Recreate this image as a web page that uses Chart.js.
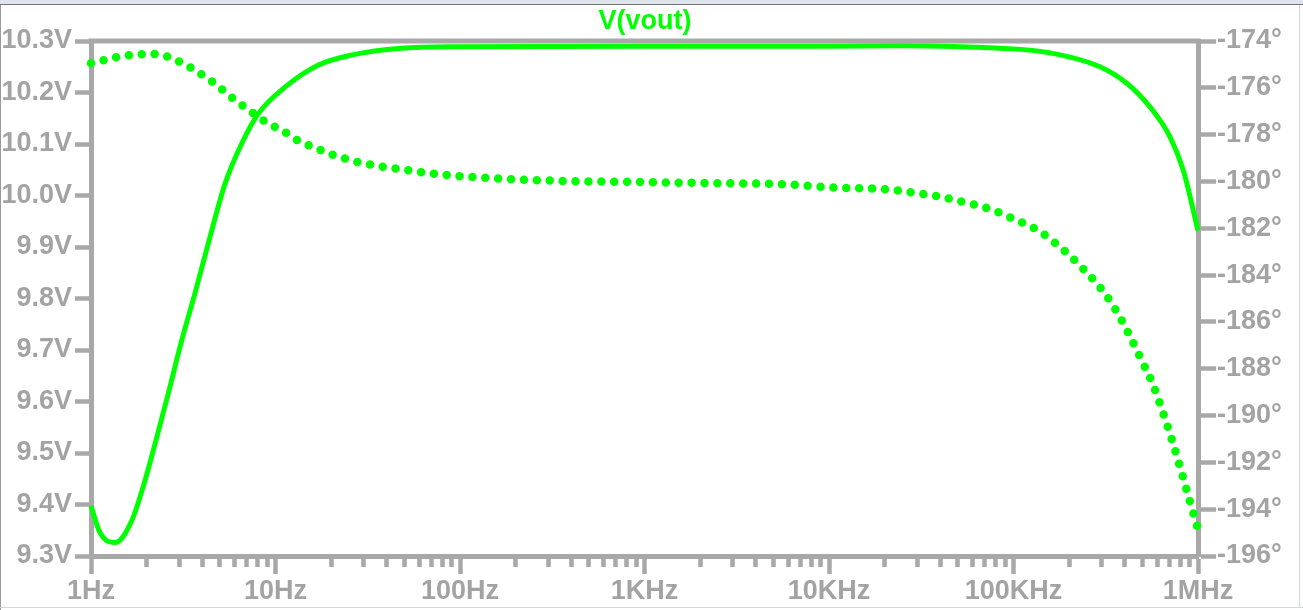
<!DOCTYPE html>
<html>
<head>
<meta charset="utf-8">
<title>V(vout)</title>
<script src="https://cdn.jsdelivr.net/npm/chart.js@4.4.1/dist/chart.umd.min.js"></script>
<style>
  html, body { margin: 0; padding: 0; background: #fff; }
  #wrap { position: relative; width: 1303px; height: 610px; overflow: hidden; background: #fff; }
  #plot { position: absolute; left: 0; top: 0; }
  .edge { position: absolute; }
</style>
</head>
<body>
<div id="wrap">
  <canvas id="plot" width="1303" height="610"></canvas>
  <div class="edge" style="left:0;top:0;width:1303px;height:4px;background:#dfe4eb;border-bottom:1px solid #707478"></div>
  <div class="edge" style="left:0;top:5px;width:1px;height:605px;background:#9a9a9a"></div>
  <div class="edge" style="left:1299px;top:5px;width:1px;height:603px;background:#d3d7dc"></div>
  <div class="edge" style="left:0;top:607px;width:1303px;height:1px;background:#d3d7dc"></div>
</div>
<script>
// magnitude, V(vout) in volts
const magFreq = [1, 1.12, 1.35, 1.66, 1.96, 2.27, 2.62, 3.1, 3.66, 4.51, 5.33, 6.56, 8.07, 11.3, 17, 26, 48,
  100, 1000, 10000, 24000, 84500, 158000, 294000, 411000, 549000, 705000, 832000, 1000000];
const magVolts = [9.397, 9.345, 9.326, 9.368, 9.446, 9.530, 9.615, 9.718, 9.810, 9.932, 10.023, 10.101, 10.159,
  10.211, 10.253, 10.273, 10.286, 10.289, 10.290, 10.290, 10.291, 10.286, 10.277, 10.250, 10.218, 10.172,
  10.114, 10.049, 9.932];

// phase in degrees (dotted trace)
const phaseFreq = [1, 1.19, 1.41, 1.66, 1.92, 2.27, 2.68, 3.1, 3.59, 4.15, 4.74, 5.43, 6.23, 7.18, 8.14, 9.53,
  11, 12.7, 14.7, 17.3, 20.2, 23.8, 27.9, 32.7, 38.7, 45.4, 71.4, 165, 379, 869, 2150, 5630, 10800, 20500,
  28600, 39100, 53400, 74600, 102000, 136000, 179000, 229000, 292000, 351000, 419000, 491000, 568000,
  648000, 741000, 816000, 897000, 1000000];
const phaseDeg = [-174.95, -174.81, -174.67, -174.60, -174.56, -174.56, -174.70, -174.93, -175.20, -175.53,
  -175.84, -176.24, -176.60, -176.95, -177.27, -177.60, -177.84, -178.17, -178.41, -178.64, -178.85, -179.02,
  -179.17, -179.28, -179.38, -179.45, -179.67, -179.88, -179.98, -180.02, -180.07, -180.12, -180.26, -180.34,
  -180.48, -180.64, -180.88, -181.18, -181.63, -182.09, -182.80, -183.59, -184.49, -185.37, -186.47, -187.58,
  -188.65, -189.91, -191.32, -192.44, -193.58, -194.85];

// axis ticks
const freqDecades = [1, 10, 100, 1e3, 1e4, 1e5];
const freqTickLabels = ['1Hz', '10Hz', '100Hz', '1KHz', '10KHz', '100KHz', '1MHz'];
const voltTicks = [9.3, 9.4, 9.5, 9.6, 9.7, 9.8, 9.9, 10.0, 10.1, 10.2, 10.3];
const voltTickLabels = ['9.3V', '9.4V', '9.5V', '9.6V', '9.7V', '9.8V', '9.9V', '10.0V', '10.1V', '10.2V', '10.3V'];
const degTicks = [-196, -194, -192, -190, -188, -186, -184, -182, -180, -178, -176, -174];
const degTickLabels = ['-196°', '-194°', '-192°', '-190°', '-188°', '-186°', '-184°', '-182°', '-180°', '-178°', '-176°', '-174°'];

const green = '#00ff00';
const gray = '#a8a8a8';
const textGray = '#a3a3a3';
const tickFont = { family: "'Liberation Sans', Arial, sans-serif", size: 27, weight: 'bold' };

const freqTicks = [];
freqDecades.forEach(d => {
  for (let m = 1; m <= 9; m++) freqTicks.push({ value: m * d, major: m === 1 });
});
freqTicks.push({ value: 1e6, major: true });

// top edge of the plot frame (the axes draw the other three sides)
const frameTop = {
  id: 'frameTop',
  beforeDatasetsDraw(chart) {
    const { ctx, chartArea: a } = chart;
    ctx.save();
    ctx.strokeStyle = gray;
    ctx.lineWidth = 5;
    ctx.beginPath();
    ctx.moveTo(a.left - 2.5, a.top);
    ctx.lineTo(a.right + 2.5, a.top);
    ctx.stroke();
    ctx.restore();
  }
};

const ctx = document.getElementById('plot').getContext('2d');
new Chart(ctx, {
  type: 'line',
  data: {
    datasets: [
      {
        label: 'V(vout)',
        data: magFreq.map((f, i) => ({ x: f, y: magVolts[i] })),
        yAxisID: 'yV',
        borderColor: green,
        borderWidth: 5,
        pointRadius: 0,
        cubicInterpolationMode: 'monotone',
        clip: 8
      },
      {
        label: 'phase',
        data: phaseFreq.map((f, i) => ({ x: f, y: phaseDeg[i] })),
        yAxisID: 'yP',
        borderColor: green,
        borderWidth: 8.5,
        borderDash: [0, 12.9],
        borderCapStyle: 'round',
        pointRadius: 0,
        cubicInterpolationMode: 'monotone',
        clip: 8
      }
    ]
  },
  options: {
    responsive: false,
    animation: false,
    devicePixelRatio: 1,
    layout: { padding: { left: 0, right: 13, top: 0, bottom: 0 } },
    plugins: {
      legend: { display: false },
      tooltip: { enabled: false },
      title: {
        display: true,
        text: 'V(vout)',
        color: green,
        font: { family: "'Liberation Sans', Arial, sans-serif", size: 27, weight: 'bold' },
        padding: { top: 5.5, bottom: 3.1 }
      }
    },
    scales: {
      x: {
        type: 'logarithmic',
        position: 'bottom',
        min: 1,
        max: 1e6,
        afterBuildTicks: s => { s.ticks = freqTicks.map(t => ({ value: t.value, major: t.major })); },
        afterFit: s => { s.height = 54; },
        border: { display: true, color: gray, width: 5 },
        grid: {
          drawOnChartArea: false,
          drawTicks: true,
          tickLength: 18,
          tickWidth: 4.5,
          tickColor: gray,
          tickBorderDash: c => (c.tick && c.tick.major ? [] : [8, 100])
        },
        ticks: {
          autoSkip: false,
          maxRotation: 0,
          color: textGray,
          font: tickFont,
          padding: 1,
          callback: (value, i, ticks) =>
            ticks[i].major ? freqTickLabels[Math.round(Math.log10(value))] : ''
        }
      },
      yV: {
        type: 'linear',
        position: 'left',
        min: 9.3,
        max: 10.3,
        afterBuildTicks: s => { s.ticks = voltTicks.map(v => ({ value: v })); },
        afterFit: s => { s.width = 91; },
        border: { display: true, color: gray, width: 5 },
        grid: { drawOnChartArea: false, drawTicks: true, tickLength: 16, tickWidth: 4.5, tickColor: gray },
        ticks: {
          autoSkip: false,
          color: textGray,
          font: tickFont,
          padding: 3,
          callback: (value, i) => voltTickLabels[i]
        }
      },
      yP: {
        type: 'linear',
        position: 'right',
        min: -196,
        max: -174,
        afterBuildTicks: s => { s.ticks = degTicks.map(v => ({ value: v })); },
        afterFit: s => { s.width = 92; },
        border: { display: true, color: gray, width: 5 },
        grid: { drawOnChartArea: false, drawTicks: true, tickLength: 18, tickWidth: 4.5, tickColor: gray },
        ticks: {
          autoSkip: false,
          color: textGray,
          font: tickFont,
          padding: 1,
          callback: (value, i) => degTickLabels[i]
        }
      }
    }
  },
  plugins: [frameTop]
});
</script>
</body>
</html>
